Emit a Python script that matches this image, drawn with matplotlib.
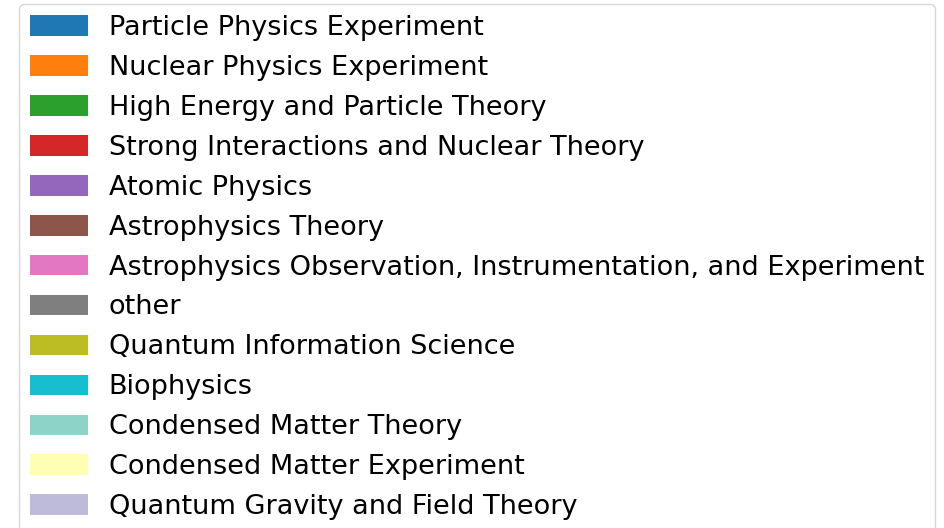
import matplotlib
matplotlib.use("Agg")
import matplotlib.pyplot as plt
from matplotlib.patches import Patch

labels = [
    "Particle Physics Experiment",
    "Nuclear Physics Experiment",
    "High Energy and Particle Theory",
    "Strong Interactions and Nuclear Theory",
    "Atomic Physics",
    "Astrophysics Theory",
    "Astrophysics Observation, Instrumentation, and Experiment",
    "other",
    "Quantum Information Science",
    "Biophysics",
    "Condensed Matter Theory",
    "Condensed Matter Experiment",
    "Quantum Gravity and Field Theory",
]
colors = [
    "#1f77b4", "#ff7f0e", "#2ca02c", "#d62728", "#9467bd",
    "#8c564b", "#e377c2", "#7f7f7f", "#bcbd22", "#17becf",
    "#8dd3c7", "#ffffb3", "#bebada",
]

W, H = 945, 528
fig = plt.figure(figsize=(W / 100, H / 100), dpi=100)
handles = [Patch(facecolor=c, label=l) for c, l in zip(colors, labels)]
leg = fig.legend(handles=handles, loc="upper left",
                 bbox_to_anchor=(19 / W, 1 - 4 / H), borderaxespad=0,
                 fontsize=19.5, labelspacing=0.515, handlelength=2.15,
                 handleheight=0.8, handletextpad=0.76, frameon=True)
fig.savefig("out.png", dpi=100)
